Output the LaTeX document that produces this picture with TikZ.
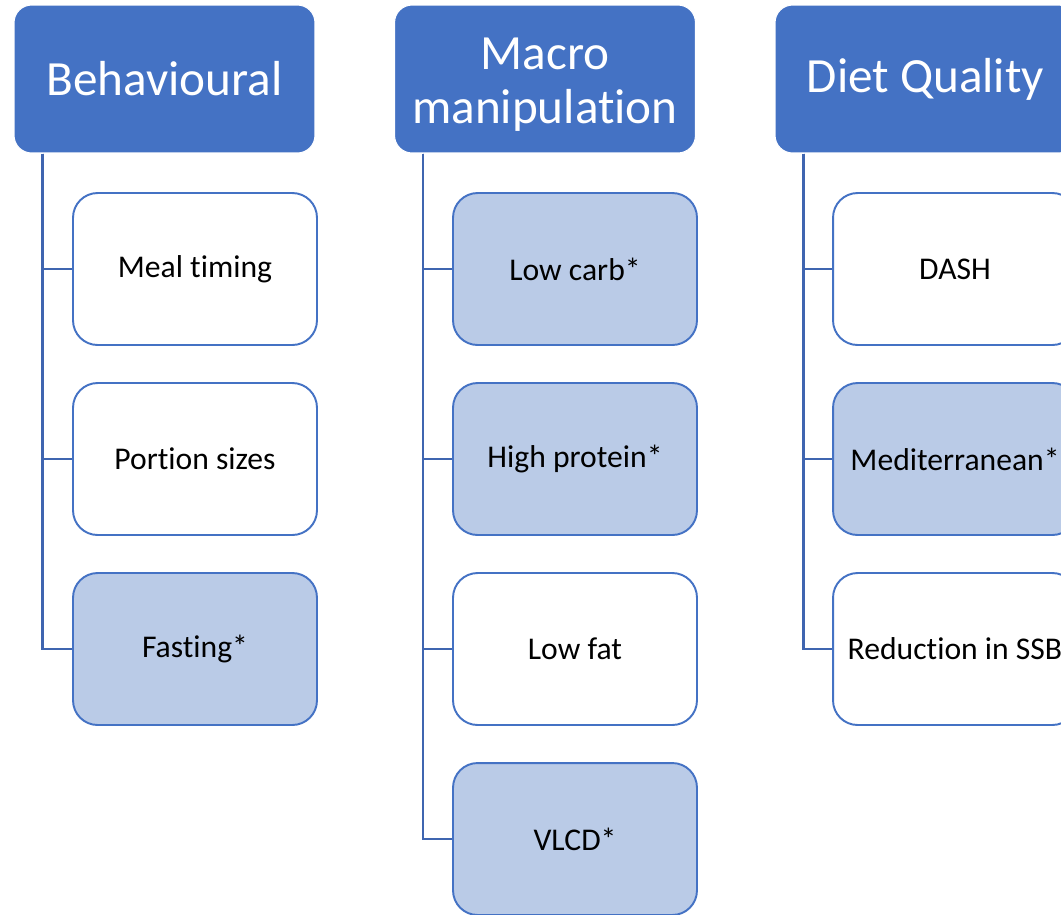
\documentclass[tikz,border=0pt]{standalone}
\usepackage{fontspec}
\setmainfont{Carlito}[Ligatures=NoCommon, Contextuals=NoAlternate]
\definecolor{accent}{HTML}{4472C4}
\definecolor{lightacc}{HTML}{BACBE7}
\definecolor{trunk}{HTML}{3F65B0}
\tikzset{
  head/.style={rectangle, rounded corners=10pt, fill=accent, draw=white, line width=0.6pt,
    minimum width=6.02cm, minimum height=2.96cm, inner sep=0pt, text=white, align=center,
    font=\fontsize{28}{30.7}\selectfont},
  item/.style={rectangle, rounded corners=14pt, fill=white, draw=accent, line width=1.1pt,
    minimum width=4.88cm, minimum height=3.04cm, inner sep=0pt, align=center,
    font=\fontsize{18}{21}\selectfont},
  marked/.style={item, fill=lightacc},
  branch/.style={draw=trunk, line width=1.6pt}
}
\begin{document}
\begin{tikzpicture}[x=0.02cm, y=-0.02cm]
\useasboundingbox (0,0) rectangle (1061,914);
\clip (0,0) rectangle (1061,914);
% column headers
\node[head] (hB) at (164.5,79) {Behavioural};
\node[head] (hM) at (545,79) {\rule{0pt}{0.85cm}Macro\\manipulation};
\node[head] (hD) at (925.5,79) {Diet Quality};
% trunk tops
\coordinate (tB) at ([xshift=0.58cm]hB.south west);
\coordinate (tM) at ([xshift=0.58cm]hM.south west);
\coordinate (tD) at ([xshift=0.58cm]hD.south west);
% Behavioural
\node[item]   (b1) at (195,269) {Meal timing};
\node[item]   (b2) at (195,459) {Portion sizes};
\node[marked] (b3) at (195,649) {Fasting*};
% Macro manipulation
\node[marked] (m1) at (575,269) {Low carb*};
\node[marked] (m2) at (575,459) {High protein*};
\node[item]   (m3) at (575,649) {Low fat};
\node[marked] (m4) at (575,839) {VLCD*};
% Diet Quality
\node[item]   (d1) at (955,269) {DASH};
\node[marked] (d2) at (955,459) {Mediterranean*};
\node[item]   (d3) at (955,649) {Reduction in SSB};
% connectors
\foreach \t/\c in {tB/b1, tB/b2, tB/b3, tM/m1, tM/m2, tM/m3, tM/m4, tD/d1, tD/d2, tD/d3}
  \draw[branch] (\t) |- (\c.west);
\end{tikzpicture}
\end{document}
